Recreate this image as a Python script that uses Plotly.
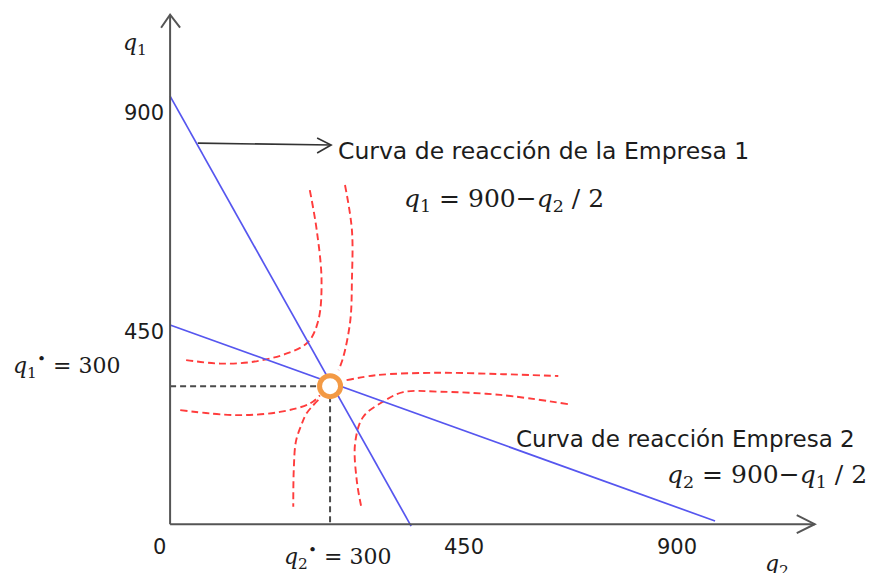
import plotly.graph_objects as go

# ---------------------------------------------------------------
# Cournot duopoly: reaction curves and isoprofit curves
# horizontal axis = q2, vertical axis = q1
# ---------------------------------------------------------------

# Reaction curve of firm 1 (steep line) and of firm 2 (flat line)
react1_q2 = [0, 452]
react1_q1 = [930, -4]
react2_q2 = [0, 1022]
react2_q1 = [433, 7]

# Equilibrium point
eq_q2 = 300
eq_q1 = 300

# Isoprofit curves (dashed) surrounding the equilibrium
iso_a_q2 = [262, 275, 284, 278, 259, 219, 156, 94, 28]
iso_a_q1 = [726, 639, 530, 443, 396, 371, 353, 349, 357]
iso_b_q2 = [328, 341, 341, 338, 325, 316]
iso_b_q1 = [737, 639, 530, 443, 364, 335]
iso_c_q2 = [331, 388, 500, 625, 728]
iso_c_q1 = [313, 324, 329, 326, 322]
iso_d_q2 = [746, 619, 506, 437, 399, 362, 347, 350, 359]
iso_d_q1 = [261, 281, 288, 287, 266, 233, 176, 96, 35]
iso_e_q2 = [19, 125, 206, 262, 281]
iso_e_q1 = [248, 237, 244, 262, 280]
iso_f_q2 = [278, 256, 246, 236, 232, 231]
iso_f_q1 = [270, 241, 215, 180, 120, 38]

# Axis extents and tick labels
x_axis_end = 1209
y_axis_end = 1107
x_tick_labels = ["0", "450", "900"]
y_tick_labels = ["450", "900"]

W, H = 875, 573
X_RANGE = [-319, 1322]
Y_RANGE = [-106, 1139]

BLUE = "#5656ef"
RED = "#ff3c3c"
ORANGE = "#f39a45"
AXIS = "#555555"
GUIDE = "#4a4a4a"
TEXT = "#1c1c1c"
SANS = "DejaVu Sans"
SERIF = "DejaVu Serif"

fig = go.Figure()

# Dashed guides from the equilibrium to both axes
fig.add_trace(go.Scatter(x=[0, eq_q2, eq_q2], y=[eq_q1, eq_q1, 0], mode="lines",
                         line=dict(color=GUIDE, width=2, dash="6px,4px"),
                         hoverinfo="skip"))

# Isoprofit curves
for xs, ys in [(iso_a_q2, iso_a_q1), (iso_b_q2, iso_b_q1), (iso_c_q2, iso_c_q1),
               (iso_d_q2, iso_d_q1), (iso_e_q2, iso_e_q1), (iso_f_q2, iso_f_q1)]:
    fig.add_trace(go.Scatter(x=xs, y=ys, mode="lines",
                             line=dict(color=RED, width=1.9, dash="7px,4px",
                                       shape="spline", smoothing=1.0),
                             hoverinfo="skip"))

# Reaction curves
fig.add_trace(go.Scatter(x=react1_q2, y=react1_q1, mode="lines",
                         line=dict(color=BLUE, width=1.7), hoverinfo="skip"))
fig.add_trace(go.Scatter(x=react2_q2, y=react2_q1, mode="lines",
                         line=dict(color=BLUE, width=1.7), hoverinfo="skip"))

# Equilibrium marker
fig.add_trace(go.Scatter(x=[eq_q2], y=[eq_q1], mode="markers",
                         marker=dict(size=21, color="white",
                                     line=dict(color=ORANGE, width=5)),
                         hoverinfo="skip"))

# Axes with open arrowheads
axis_line = dict(color=AXIS, width=2)
shapes = [
    dict(type="line", xref="x", yref="y", x0=0, y0=0, x1=x_axis_end, y1=0, line=axis_line),
    dict(type="line", xref="x", yref="y", x0=0, y0=0, x1=0, y1=y_axis_end, line=axis_line),
    dict(type="path", xref="x", yref="y", xsizemode="pixel", ysizemode="pixel",
         xanchor=x_axis_end, yanchor=0, path="M-18,9 L0,0 L-18,-9", line=axis_line),
    dict(type="path", xref="x", yref="y", xsizemode="pixel", ysizemode="pixel",
         xanchor=0, yanchor=y_axis_end, path="M-9,-13 L0,0 L10,-13", line=axis_line),
]

# Pointer from firm 1's reaction curve to its caption
ptr_start = (52, 828)
ptr_tip = (302, 824)
ptr_line = dict(color="#333333", width=1.6)
shapes += [
    dict(type="line", xref="x", yref="y", x0=ptr_start[0], y0=ptr_start[1],
         x1=ptr_tip[0], y1=ptr_tip[1], line=ptr_line),
    dict(type="path", xref="x", yref="y", xsizemode="pixel", ysizemode="pixel",
         xanchor=ptr_tip[0], yanchor=ptr_tip[1], path="M-14,7 L0,0 L-14,-8", line=ptr_line),
]


def at(px, py):
    return px / W, 1 - py / H


annotations = []


def label(text, px, py, size, family, xanchor="center", color=TEXT):
    x, y = at(px, py)
    annotations.append(dict(text=text, x=x, y=y, xref="paper", yref="paper",
                            xanchor=xanchor, yanchor="middle", showarrow=False,
                            font=dict(size=size, family=family, color=color)))


# Axis titles
label("<i>q</i><sub>1</sub>", 135, 44, 22, SERIF)
label("<i>q</i><sub>2</sub>", 777, 565, 22, SERIF)

# Tick labels
for txt, px in zip(x_tick_labels, [159, 464, 677]):
    label(txt, px, 547, 21, SANS)
for txt, py in zip(y_tick_labels, [332, 113]):
    label(txt, 144, py, 21, SANS)

# Equilibrium quantities
label("<i>q</i><sub>1</sub><sup>•</sup> = 300", 11, 366, 22, SERIF, xanchor="left")
label("<i>q</i><sub>2</sub><sup>•</sup> = 300", 282, 557, 22, SERIF, xanchor="left")

# Captions
label("Curva de reacción de la Empresa 1", 336, 151, 23.5, SANS, xanchor="left")
label("<i>q</i><sub>1</sub> = 900−<i>q</i><sub>2</sub> / 2", 402, 200, 25, SERIF, xanchor="left")
label("Curva de reacción Empresa 2", 514, 439, 23, SANS, xanchor="left")
label("<i>q</i><sub>2</sub> = 900−<i>q</i><sub>1</sub> / 2", 665, 476, 25, SERIF, xanchor="left")

fig.update_layout(
    width=W, height=H,
    margin=dict(l=0, r=0, t=0, b=0),
    paper_bgcolor="white", plot_bgcolor="white",
    showlegend=False,
    xaxis=dict(range=X_RANGE, visible=False, fixedrange=True),
    yaxis=dict(range=Y_RANGE, visible=False, fixedrange=True),
    shapes=shapes,
    annotations=annotations,
)

fig.write_html("out.html")
